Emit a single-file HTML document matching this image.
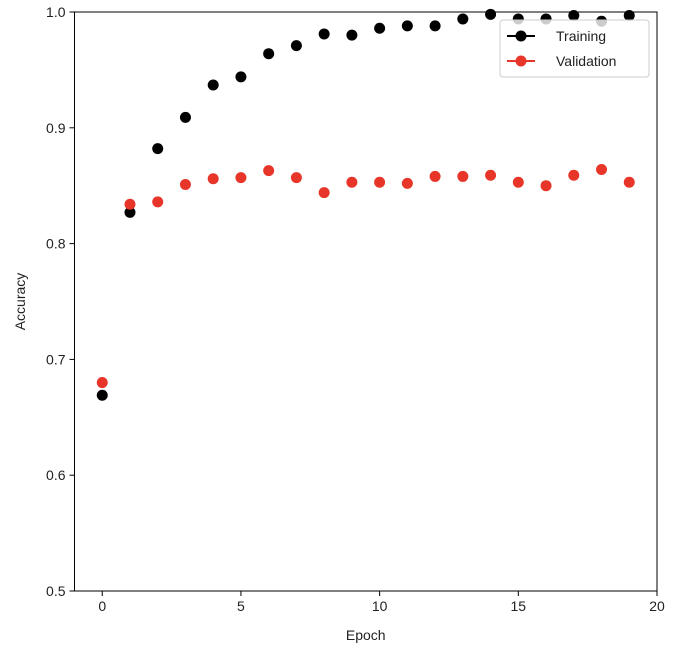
<!DOCTYPE html>
<html><head><meta charset="utf-8"><style>
body{margin:0;background:#fff;}
svg text{font-family:"Liberation Sans","DejaVu Sans",sans-serif;fill:#222;}
</style></head><body>
<svg width="674" height="658" xmlns="http://www.w3.org/2000/svg">
<rect x="0" y="0" width="674" height="658" fill="#fff"/>
<g id="plot"></g>
</svg>
<script>
const epochs=[0,1,2,3,4,5,6,7,8,9,10,11,12,13,14,15,16,17,18,19];
const training=[0.669,0.827,0.882,0.909,0.937,0.944,0.964,0.971,0.981,0.980,0.986,0.988,0.988,0.994,0.998,0.994,0.994,0.997,0.992,0.997];
const validation=[0.680,0.834,0.836,0.851,0.856,0.857,0.863,0.857,0.844,0.853,0.853,0.852,0.858,0.858,0.859,0.853,0.850,0.859,0.864,0.853];
const xTicks=[0,5,10,15,20];
const yTicks=[0.5,0.6,0.7,0.8,0.9,1.0];
const L=74.5,R=657,T=12,B=591;
const xMin=-1,xMax=20.0,yMin=0.5,yMax=1.0;
function xs(v){return L+(v-xMin)/(xMax-xMin)*(R-L);}
function ys(v){return B-(v-yMin)/(yMax-yMin)*(B-T);}
const NS="http://www.w3.org/2000/svg";
const g=document.getElementById('plot');
function mk(t,a,p){const e=document.createElementNS(NS,t);for(const k in a)e.setAttribute(k,a[k]);(p||g).appendChild(e);return e;}
const frame=mk('rect',{x:L,y:T,width:R-L,height:B-T,fill:'none',stroke:'#000','stroke-width':1});


xTicks.forEach(v=>{
  const x=xs(v);
  const t=mk('line',{x1:x,x2:x,y1:B,y2:B+5,stroke:'#000'});
  
  
  const l=mk('text',{x:x,y:B+20,'text-anchor':'middle','font-size':14});
  l.textContent=v;
  
  
});
yTicks.forEach(v=>{
  const y=ys(v);
  const t=mk('line',{x1:L-5,x2:L,y1:y,y2:y,stroke:'#000'});
  
  
  const l=mk('text',{x:L-9,y:y+5,'text-anchor':'end','font-size':14});
  l.textContent=v.toFixed(1);
  
  
});
const xt=mk('text',{x:(L+R)/2,y:640,'text-anchor':'middle','font-size':14});
xt.textContent='Epoch';


const yt=mk('text',{x:25,y:(T+B)/2,'text-anchor':'middle','font-size':14,transform:'rotate(-90 25 '+((T+B)/2)+')'});
yt.textContent='Accuracy';


function series(vals,color,name){
  vals.forEach((v,i)=>{
    const c=mk('circle',{cx:xs(epochs[i]),cy:ys(v),r:5.5,fill:color});
    
    
  });
}
series(training,'#000','training');
series(validation,'#e8352a','validation');
const lg=mk('g',{});


mk('rect',{x:500,y:20,width:149,height:57,rx:3,fill:'#fff','fill-opacity':0.8,stroke:'#ccc'},lg);
[['Training','#000',36],['Validation','#e8352a',61]].forEach(([n,c,y])=>{
  const e=mk('g',{},lg);
  
  
  mk('line',{x1:507,x2:535,y1:y,y2:y,stroke:c,'stroke-width':2},e);
  mk('circle',{cx:521,cy:y,r:5.5,fill:c},e);
  const t=mk('text',{x:556,y:y+5,'font-size':14},e);t.textContent=n;
});
</script>
</body></html>
